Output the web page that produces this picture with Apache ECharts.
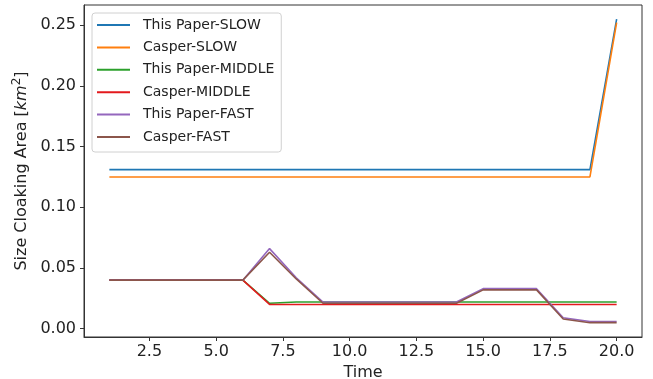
<!DOCTYPE html>
<html>
<head>
<meta charset="utf-8">
<script src="https://cdn.jsdelivr.net/npm/echarts@6/dist/echarts.min.js"></script>
<style>
  html, body { margin: 0; padding: 0; background: #fff; }
  #chart { width: 653px; height: 379px; }
</style>
</head>
<body>
<div id="chart"></div>
<script>
// data
const time = [1, 2, 3, 4, 5, 6, 7, 8, 9, 10, 11, 12, 13, 14, 15, 16, 17, 18, 19, 20];

const paperSlow  = [0.131, 0.131, 0.131, 0.131, 0.131, 0.131, 0.131, 0.131, 0.131, 0.131, 0.131, 0.131, 0.131, 0.131, 0.131, 0.131, 0.131, 0.131, 0.131, 0.255];
const casperSlow = [0.125, 0.125, 0.125, 0.125, 0.125, 0.125, 0.125, 0.125, 0.125, 0.125, 0.125, 0.125, 0.125, 0.125, 0.125, 0.125, 0.125, 0.125, 0.125, 0.252];
const paperMiddle  = [0.04, 0.04, 0.04, 0.04, 0.04, 0.04, 0.021, 0.022, 0.022, 0.022, 0.022, 0.022, 0.022, 0.022, 0.022, 0.022, 0.022, 0.022, 0.022, 0.022];
const casperMiddle = [0.04, 0.04, 0.04, 0.04, 0.04, 0.04, 0.02, 0.02, 0.02, 0.02, 0.02, 0.02, 0.02, 0.02, 0.02, 0.02, 0.02, 0.02, 0.02, 0.02];
const paperFast  = [0.04, 0.04, 0.04, 0.04, 0.04, 0.04, 0.066, 0.042, 0.022, 0.022, 0.022, 0.022, 0.022, 0.022, 0.033, 0.033, 0.033, 0.009, 0.006, 0.006];
const casperFast = [0.04, 0.04, 0.04, 0.04, 0.04, 0.04, 0.063, 0.041, 0.021, 0.021, 0.021, 0.021, 0.021, 0.021, 0.032, 0.032, 0.032, 0.008, 0.005, 0.005];

const seriesNames = ['This Paper-SLOW', 'Casper-SLOW', 'This Paper-MIDDLE', 'Casper-MIDDLE', 'This Paper-FAST', 'Casper-FAST'];
const seriesColors = ['#1f77b4', '#ff7f0e', '#2ca02c', '#e3191d', '#9467bd', '#8c564b'];
const seriesData = [paperSlow, casperSlow, paperMiddle, casperMiddle, paperFast, casperFast];

const xTicks = [2.5, 5, 7.5, 10, 12.5, 15, 17.5, 20];
const yTicks = [0, 0.05, 0.1, 0.15, 0.2, 0.25];

const font = 'DejaVu Sans';

const chart = echarts.init(document.getElementById('chart'));

const option = {
  animation: false,
  grid: {
    left: 84,
    right: 11,
    top: 5,
    bottom: 42,
    containLabel: false,
    outerBoundsMode: 'none',
    show: true,
    borderColor: '#333',
    borderWidth: 1,
    backgroundColor: 'transparent'
  },
  legend: {
    orient: 'vertical',
    left: 92,
    top: 13,
    padding: [4, 7, 7, 5],
    itemGap: 6.4,
    itemWidth: 33,
    itemHeight: 2,
    icon: 'rect',
    backgroundColor: 'rgba(255,255,255,0.85)',
    borderColor: '#d0d0d0',
    borderWidth: 1,
    borderRadius: 3,
    data: seriesNames,
    textStyle: {
      fontFamily: font,
      fontSize: 14,
      color: '#222',
      lineHeight: 16,
      padding: [0, 0, 0, 8]
    }
  },
  xAxis: {
    type: 'value',
    min: 0.05,
    max: 20.95,
    name: 'Time',
    nameLocation: 'middle',
    nameGap: 21,
    nameTextStyle: { fontFamily: font, fontSize: 16, color: '#222' },
    splitLine: { show: false },
    axisLine: { show: true, onZero: false, lineStyle: { color: '#333' } },
    axisTick: { show: true, length: 4, customValues: xTicks, lineStyle: { color: '#333' } },
    axisLabel: {
      customValues: xTicks,
      margin: 7,
      fontFamily: font,
      fontSize: 16,
      color: '#222',
      formatter: v => v.toFixed(1)
    }
  },
  yAxis: {
    type: 'value',
    min: -0.0068,
    max: 0.2666,
    name: 'Size Cloaking Area [{i|km}{s|2}]',
    nameLocation: 'middle',
    nameRotate: 90,
    nameGap: 52,
    nameTextStyle: {
      fontFamily: font,
      fontSize: 16,
      color: '#222',
      rich: {
        i: { fontFamily: font, fontSize: 16, fontStyle: 'italic', color: '#222' },
        s: { fontFamily: font, fontSize: 12, color: '#222', verticalAlign: 'top', padding: [0, 0, 9, 0] }
      }
    },
    splitLine: { show: false },
    axisLine: { show: true, onZero: false, lineStyle: { color: '#333' } },
    axisTick: { show: true, length: 4, customValues: yTicks, lineStyle: { color: '#333' } },
    axisLabel: {
      customValues: yTicks,
      margin: 8,
      fontFamily: font,
      fontSize: 16,
      color: '#222',
      formatter: v => v.toFixed(2)
    }
  },
  series: seriesNames.map((name, k) => ({
    name: name,
    type: 'line',
    data: time.map((t, i) => [t, seriesData[k][i]]),
    color: seriesColors[k],
    showSymbol: false,
    symbol: 'none',
    lineStyle: { width: 1.6, color: seriesColors[k] },
    z: 2 + k
  }))
};

chart.setOption(option);
</script>
</body>
</html>
